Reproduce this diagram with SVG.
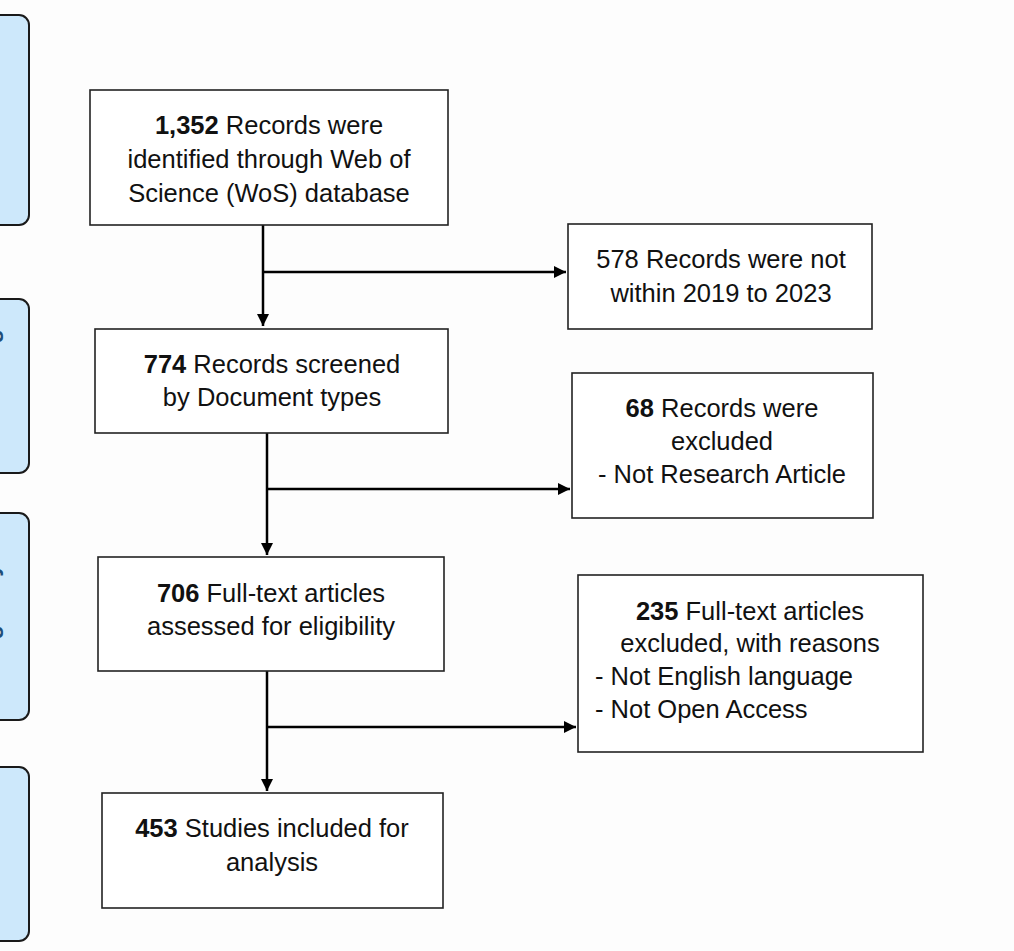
<svg xmlns="http://www.w3.org/2000/svg" width="1014" height="951" viewBox="0 0 1014 951">
<defs>
<style>
.bg{fill:#fdfdfd}
.stage{fill:#cde8fb;stroke:#1a1a1a;stroke-width:2}
.stagelbl{font-family:"Liberation Sans",Arial,sans-serif;font-weight:bold;font-size:23.5px;fill:#1f4e79;text-anchor:middle}
.box{fill:#ffffff;stroke:#222222;stroke-width:1.6}
.t{font-family:"Liberation Sans",Arial,sans-serif;font-size:25.5px;fill:#111111}
.c{text-anchor:middle}
.b{font-weight:bold}
.conn{fill:none;stroke:#000000;stroke-width:2.5}
</style>
<marker id="arr" markerWidth="14" markerHeight="14" refX="12" refY="6" orient="auto" markerUnits="userSpaceOnUse">
<path d="M0,0 L12,6 L0,12 Z" fill="#000000"/>
</marker>
</defs>
<rect class="bg" x="0" y="0" width="1014" height="951"/>

<g id="stage-identification">
<rect class="stage" x="-20" y="15" width="49" height="210" rx="10"/>
<text class="stagelbl" transform="translate(-2,120) rotate(-90)">Identification</text>
</g>
<g id="stage-screening">
<rect class="stage" x="-20" y="299" width="49" height="174" rx="10"/>
<text class="stagelbl" transform="translate(-2,386) rotate(-90)">Screening</text>
</g>
<g id="stage-eligibility">
<rect class="stage" x="-20" y="513" width="49" height="207" rx="10"/>
<text class="stagelbl" transform="translate(-2,616) rotate(-90)">Eligibility</text>
</g>
<g id="stage-included">
<rect class="stage" x="-20" y="767" width="49" height="174" rx="10"/>
<text class="stagelbl" transform="translate(-2,854) rotate(-90)">Included</text>
</g>

<g id="connectors">
<path class="conn" d="M263,225 V326" marker-end="url(#arr)"/>
<path class="conn" d="M263,272 H566" marker-end="url(#arr)"/>
<path class="conn" d="M267,433 V555" marker-end="url(#arr)"/>
<path class="conn" d="M267,489 H570" marker-end="url(#arr)"/>
<path class="conn" d="M267,671 V791" marker-end="url(#arr)"/>
<path class="conn" d="M267,727 H576" marker-end="url(#arr)"/>
</g>

<g id="n-identified">
<rect class="box" x="90" y="90" width="358" height="135"/>
<text class="t c" x="269" y="134"><tspan class="b">1,352</tspan> Records were</text>
<text class="t c" x="269" y="168">identified through Web of</text>
<text class="t c" x="269" y="202">Science (WoS) database</text>
</g>

<g id="n-excluded-years">
<rect class="box" x="568" y="224" width="304" height="105"/>
<text class="t c" x="721" y="268">578 Records were not</text>
<text class="t c" x="721" y="302">within 2019 to 2023</text>
</g>

<g id="n-screened">
<rect class="box" x="95" y="329" width="353" height="104"/>
<text class="t c" x="272" y="373"><tspan class="b">774</tspan> Records screened</text>
<text class="t c" x="272" y="406">by Document types</text>
</g>

<g id="n-excluded-type">
<rect class="box" x="572" y="373" width="301" height="145"/>
<text class="t c" x="722" y="417"><tspan class="b">68</tspan> Records were</text>
<text class="t c" x="722" y="450">excluded</text>
<text class="t c" x="722" y="483">- Not Research Article</text>
</g>

<g id="n-fulltext">
<rect class="box" x="98" y="557" width="346" height="114"/>
<text class="t c" x="271" y="602"><tspan class="b">706</tspan> Full-text articles</text>
<text class="t c" x="271" y="635">assessed for eligibility</text>
</g>

<g id="n-excluded-fulltext">
<rect class="box" x="578" y="575" width="345" height="177"/>
<text class="t c" x="750" y="620"><tspan class="b">235</tspan> Full-text articles</text>
<text class="t c" x="750" y="652">excluded, with reasons</text>
<text class="t" x="595" y="685">- Not English language</text>
<text class="t" x="595" y="718">- Not Open Access</text>
</g>

<g id="n-included">
<rect class="box" x="102" y="793" width="341" height="115"/>
<text class="t c" x="272" y="837"><tspan class="b">453</tspan> Studies included for</text>
<text class="t c" x="272" y="871">analysis</text>
</g>
</svg>
